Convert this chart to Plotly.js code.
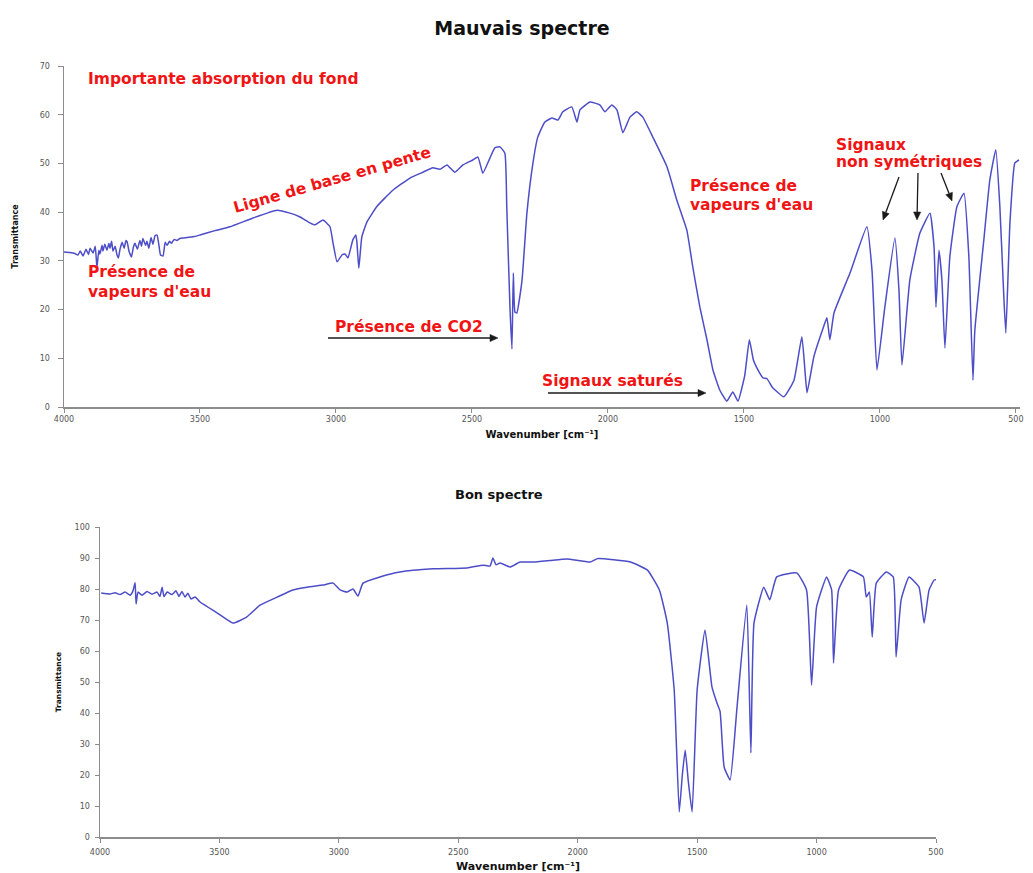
<!DOCTYPE html>
<html>
<head>
<meta charset="utf-8">
<script src="https://cdn.plot.ly/plotly-3.0.1.min.js"></script>
<style>html,body{margin:0;padding:0;background:#fff;}#chart{width:1033px;height:873px;}</style>
</head>
<body>
<div id="chart"></div>
<script>
// ---------- DATA ----------
const tickValsX = [4000, 3500, 3000, 2500, 2000, 1500, 1000, 500];
const tickTextX = ['4000', '3500', '3000', '2500', '2000', '1500', '1000', '500'];

// "Mauvais spectre" (bad spectrum)
const badWavenumber = [4000,3978,3960,3949,3940,3930,3919,3910,3904,3893,3885,3879,3872,3868,3860,3857,3850,3842,3835,3831,3825,3820,3812,3805,3800,3794,3786,3779,3772,3768,3760,3752,3745,3739,3730,3721,3715,3710,3700,3695,3688,3680,3673,3665,3658,3652,3645,3636,3628,3621,3612,3605,3595,3585,3574,3560,3548,3520,3500,3445,3390,3305,3217,3169,3132,3096,3077,3048,3022,3011,2996,2978,2967,2956,2938,2927,2923,2916,2905,2886,2849,2791,2728,2680,2644,2618,2592,2563,2533,2497,2478,2460,2434,2416,2397,2379,2372,2360,2353,2348,2342,2335,2316,2298,2276,2258,2232,2206,2184,2166,2133,2114,2103,2066,2030,2011,1986,1967,1945,1919,1894,1872,1835,1783,1747,1710,1688,1662,1636,1614,1589,1563,1541,1522,1497,1480,1465,1452,1430,1415,1395,1353,1316,1287,1275,1268,1243,1210,1195,1184,1169,1110,1048,1029,1011,982,945,930,919,890,853,816,801,794,783,772,761,743,717,691,673,658,651,618,596,574,559,544,537,522,504,489];
const badTransmittance = [31.8,31.7,31.5,31.2,32.0,31.0,32.4,31.3,32.6,31.6,33.0,28.6,32.2,31.4,33.2,32.0,33.4,32.2,33.6,32.6,34.0,32.0,33.0,31.2,30.6,32.4,33.8,32.6,34.2,33.9,31.8,30.8,32.8,33.6,32.4,34.2,33.0,34.6,33.2,34.0,32.6,34.8,33.4,35.2,35.3,33.6,31.2,31.0,33.8,33.2,34.0,33.6,34.4,34.2,34.6,34.7,34.8,35.0,35.3,36.2,37.0,38.8,40.4,39.8,39.0,37.8,37.4,38.4,37.0,33.7,29.8,31.2,31.4,30.6,34.3,35.3,33.8,28.5,34.9,38.0,41.2,44.5,47.0,48.2,49.1,48.8,49.7,48.2,49.7,50.7,51.3,48.0,51.1,53.2,53.4,52.1,41.0,20.0,11.9,27.5,19.5,19.3,26.0,39.8,50.0,55.4,58.5,59.3,58.9,60.6,61.6,58.5,61.0,62.6,62.0,60.6,62.0,61.0,56.3,59.5,60.6,59.5,55.4,49.3,42.5,36.3,28.7,20.5,13.8,7.6,3.5,1.2,3.1,1.2,6.5,13.8,9.6,8.0,6.0,5.8,4.0,2.1,5.5,14.4,7.0,2.9,10.3,16.0,18.3,13.8,19.3,27.5,37.0,28.0,7.6,20.5,34.7,24.0,8.6,26.1,35.7,39.8,32.8,20.5,32.2,26.0,12.1,30.8,41.1,43.9,30.8,5.5,15.8,34.3,46.6,52.8,41.1,22.0,15.2,37.8,50.1,50.7];

// "Bon spectre" (good spectrum)
const goodWavenumber = [3995,3958,3937,3916,3895,3874,3862,3853,3849,3841,3824,3803,3782,3761,3749,3740,3732,3719,3699,3682,3669,3657,3644,3632,3619,3602,3581,3510,3443,3385,3330,3258,3192,3133,3066,3024,2995,2966,2941,2920,2899,2828,2744,2606,2463,2396,2367,2355,2342,2325,2283,2241,2187,2116,2045,1948,1917,1779,1708,1658,1625,1596,1575,1562,1550,1537,1521,1500,1467,1438,1417,1404,1387,1362,1333,1292,1275,1262,1221,1196,1167,1083,1042,1021,1000,958,937,929,908,862,804,792,779,767,750,708,679,667,646,613,571,550,529,508,500];
const goodTransmittance = [78.7,78.4,78.8,78.2,79.0,78.0,79.4,82.0,75.2,79.0,78.0,79.2,78.3,79.0,77.6,80.6,77.5,79.0,78.2,79.4,77.6,79.2,77.4,78.6,76.8,77.4,75.8,72.3,69.0,71.0,74.8,77.4,79.7,80.6,81.3,81.9,79.7,79.0,80.0,77.7,81.9,83.9,85.5,86.5,86.8,87.7,87.4,90.0,87.8,88.4,87.1,88.7,88.7,89.2,89.7,88.7,89.8,88.7,86.1,79.7,69.0,47.4,8.1,20.0,28.1,18.0,8.1,47.4,66.8,48.4,43.2,40.5,22.6,18.4,41.9,74.8,27.1,69.0,80.6,76.5,83.9,85.2,79.7,49.0,74.2,83.9,79.7,56.1,79.7,86.1,83.9,77.4,79.0,64.5,81.9,85.5,83.9,58.1,76.5,83.9,80.6,69.0,79.7,82.9,83.0];

// ---------- LAYOUT ----------
const W = 1033, H = 873;
const px = v => v / W;
const py = v => 1 - v / H;
const RED = '#f01414';
const FONT = 'DejaVu Sans, Liberation Sans, Arial, sans-serif';
const ANN = 15.5;

const lineStyle = {color: '#4d4dc8', width: 1.5, shape: 'spline', smoothing: 0.4};

const traces = [
  {x: badWavenumber, y: badTransmittance, type: 'scatter', mode: 'lines', line: lineStyle, xaxis: 'x', yaxis: 'y', hoverinfo: 'skip'},
  {x: goodWavenumber, y: goodTransmittance, type: 'scatter', mode: 'lines', line: lineStyle, xaxis: 'x2', yaxis: 'y2', hoverinfo: 'skip'}
];

const axisCommon = {
  showgrid: false, zeroline: false, showline: true, linecolor: '#8c8c8c', linewidth: 1.5,
  ticks: 'outside', ticklen: 4, tickcolor: '#8c8c8c', tickwidth: 1,
  tickfont: {family: FONT, size: 8, color: '#555'}
};

function redText(x, y, text, extra) {
  return Object.assign({xref: 'paper', yref: 'paper', x: px(x), y: py(y), text: '<b>' + text + '</b>',
    showarrow: false, xanchor: 'left', yanchor: 'middle',
    font: {family: FONT, size: ANN, color: RED}}, extra || {});
}

// arrows drawn as a line shape plus a filled triangular head
const shapes = [];
function arrow(x0, y0, x1, y1) {
  const dx = x1 - x0, dy = y1 - y0, L = Math.hypot(dx, dy);
  const ux = dx / L, uy = dy / L, hl = 8, hw = 3.6;
  const bx = x1 - ux * hl, by = y1 - uy * hl;
  shapes.push({type: 'line', xref: 'paper', yref: 'paper', x0: px(x0), y0: py(y0), x1: px(bx), y1: py(by),
    line: {color: '#1a1a1a', width: 1.3}});
  const p1 = [bx - uy * hw, by + ux * hw], p2 = [bx + uy * hw, by - ux * hw];
  shapes.push({type: 'path', xref: 'paper', yref: 'paper',
    path: 'M' + px(x1) + ',' + py(y1) + ' L' + px(p1[0]) + ',' + py(p1[1]) + ' L' + px(p2[0]) + ',' + py(p2[1]) + ' Z',
    fillcolor: '#1a1a1a', line: {color: '#1a1a1a', width: 0.5}});
}
arrow(328, 338, 498, 338);
arrow(548, 393, 706, 393);
arrow(899, 177, 883, 220);
arrow(918, 173, 917, 220);
arrow(941, 173, 952, 201);

const layout = {
  width: W, height: H,
  margin: {l: 0, r: 0, t: 0, b: 0},
  paper_bgcolor: '#fff', plot_bgcolor: '#fff',
  showlegend: false,
  title: {text: '<b>Mauvais spectre</b>', x: px(522), xanchor: 'center', y: py(28), yanchor: 'middle',
    xref: 'paper', yref: 'paper', font: {family: FONT, size: 19, color: '#111'}},
  xaxis: Object.assign({}, axisCommon, {domain: [px(64), px(1020)], range: [4000, 485], anchor: 'y',
    tickvals: tickValsX, ticktext: tickTextX,
    title: {text: '<b>Wavenumber [cm⁻¹]</b>', standoff: 8, font: {family: FONT, size: 10, color: '#111'}}}),
  yaxis: Object.assign({}, axisCommon, {domain: [py(407), py(66)], range: [0, 70], dtick: 10, anchor: 'x',
    ticklen: 5, ticklabelstandoff: 6,
    title: {text: '<b>Transmittance</b>', standoff: 20, font: {family: FONT, size: 8, color: '#111'}}}),
  xaxis2: Object.assign({}, axisCommon, {domain: [px(100), px(936)], range: [4000, 500], anchor: 'y2',
    tickvals: tickValsX, ticktext: tickTextX, ticklabelstandoff: 3,
    title: {text: '<b>Wavenumber [cm⁻¹]</b>', standoff: 7, font: {family: FONT, size: 11, color: '#111'}}}),
  yaxis2: Object.assign({}, axisCommon, {domain: [py(837), py(527)], range: [0, 100], dtick: 10, anchor: 'x2',
    ticklen: 4, ticklabelstandoff: 3,
    title: {text: '<b>Transmittance</b>', standoff: 12, font: {family: FONT, size: 7.5, color: '#111'}}}),
  shapes: shapes,
  annotations: [
    {xref: 'paper', yref: 'paper', x: px(499), y: py(494), text: '<b>Bon spectre</b>', showarrow: false,
      xanchor: 'center', yanchor: 'middle', font: {family: FONT, size: 13, color: '#111'}},
    redText(86, 79, 'Importante absorption du fond'),
    redText(332, 180, 'Ligne de base en pente', {xanchor: 'center', textangle: -16}),
    redText(86, 272, 'Présence de'),
    redText(86, 292, 'vapeurs d\'eau'),
    redText(333, 327, 'Présence de CO2'),
    redText(688, 186, 'Présence de'),
    redText(688, 205, 'vapeurs d\'eau'),
    redText(540, 381, 'Signaux saturés'),
    redText(834, 145, 'Signaux'),
    redText(834, 162, 'non symétriques')
  ]
};

Plotly.newPlot('chart', traces, layout, {staticPlot: true, displayModeBar: false});
</script>
</body>
</html>
